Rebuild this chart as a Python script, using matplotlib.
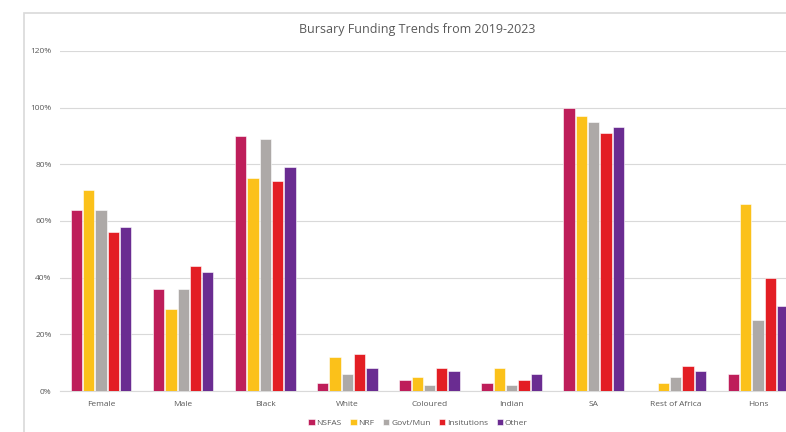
import matplotlib
matplotlib.use("Agg")
import matplotlib.pyplot as plt
import numpy as np
from matplotlib.ticker import FuncFormatter
from matplotlib.patches import Rectangle

categories = ["Female", "Male", "Black", "White", "Coloured", "Indian", "SA", "Rest of Africa", "Hons"]
series_names = ["NSFAS", "NRF", "Govt/Mun", "Insitutions", "Other"]
nsfas = [64, 36, 90, 3, 4, 3, 100, 0, 6]
nrf = [71, 29, 75, 12, 5, 8, 97, 3, 66]
govt = [64, 36, 89, 6, 2, 2, 95, 5, 25]
inst = [56, 44, 74, 13, 8, 4, 91, 9, 40]
other = [58, 42, 79, 8, 7, 6, 93, 7, 30]
colors = ["#BE1E5A", "#FBC11A", "#ADA9A7", "#E31E24", "#6A2C91"]

series = [nsfas, nrf, govt, inst, other]

plt.rcParams['font.family'] = ['Open Sans', 'DejaVu Sans']
W, H = 786, 432
fig = plt.figure(figsize=(W/100, H/100), dpi=100)

# outer chart frame (cut off on right/bottom)
fig.patches.append(Rectangle((24/W, -0.1), 1.2, 1 - 13/H + 0.1, transform=fig.transFigure,
                             facecolor="none", edgecolor="#D9D9D9", linewidth=1.2))

ax_left, ax_right = 60, 799
ax_top, ax_bot = 51, 391
ax = fig.add_axes([ax_left/W, 1 - ax_bot/H, (ax_right-ax_left)/W, (ax_bot-ax_top)/H])

x = np.arange(len(categories))
slot = 0.15
bw = 0.138
for i, (name, vals, c) in enumerate(zip(series_names, series, colors)):
    ax.bar(x + (i - 2) * slot, vals, width=bw, color=c, label=name,
           edgecolor="white", linewidth=0.4, zorder=3)

ax.set_xlim(-0.5, len(categories) - 0.5)
ax.set_ylim(0, 120)
ax.set_yticks(np.arange(0, 121, 20))
ax.yaxis.set_major_formatter(FuncFormatter(lambda v, p: f"{int(v)}%"))
ax.set_xticks(x)
ax.set_xticklabels(categories)
ax.grid(axis="y", color="#D9D9D9", linewidth=0.8, zorder=0)
for s in ["top", "right", "left"]:
    ax.spines[s].set_visible(False)
ax.spines["bottom"].set_color("#D9D9D9")
ax.tick_params(axis="both", length=0, labelsize=6, colors="#595959")
ax.tick_params(axis="x", pad=7)
ax.tick_params(axis="y", pad=6)

fig.text(417/W, 1 - 29/H, "Bursary Funding Trends from 2019-2023", ha="center", va="center",
         fontsize=9, color="#595959")

leg = fig.legend(loc="center", bbox_to_anchor=(418/W, 1 - 423/H), ncol=5, frameon=False,
                 fontsize=6, handlelength=0.8, handleheight=0.8, handletextpad=0.2,
                 columnspacing=1.0, labelcolor="#595959")

fig.savefig("out.png", dpi=100)
